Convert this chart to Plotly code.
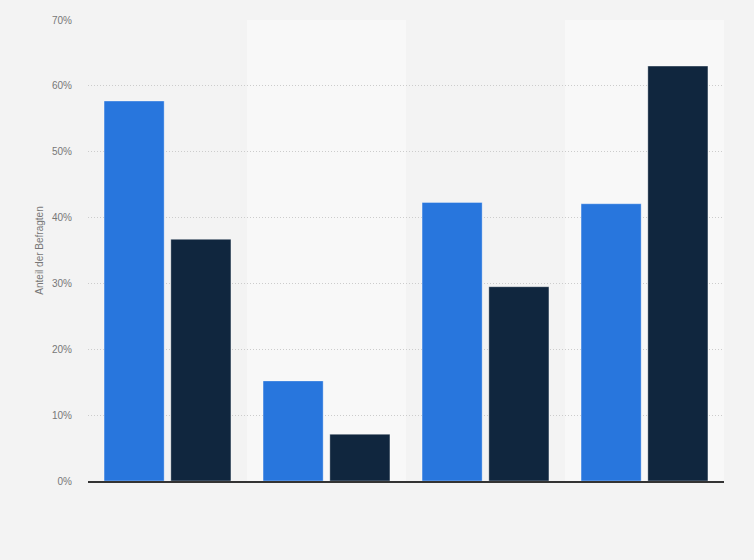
import plotly.graph_objects as go

categories = ["Kategorie 1", "Kategorie 2", "Kategorie 3", "Kategorie 4"]
series_1 = [57.7, 15.2, 42.3, 42.1]
series_2 = [36.7, 7.1, 29.5, 63.0]
y_ticks = [0, 10, 20, 30, 40, 50, 60, 70]
y_tick_labels = [f"{v}%" for v in y_ticks]

fig = go.Figure()

fig.add_trace(go.Bar(
    x=categories, y=series_1, name="Serie 1",
    marker=dict(color="#2876dd", line=dict(color="rgba(255,255,255,0.35)", width=1)),
))
fig.add_trace(go.Bar(
    x=categories, y=series_2, name="Serie 2",
    marker=dict(color="#10263e", line=dict(color="rgba(255,255,255,0.35)", width=1)),
))

# lighter background bands behind every second category
for i in range(1, len(categories), 2):
    fig.add_shape(
        type="rect", xref="x", yref="paper",
        x0=i - 0.5, x1=i + 0.5, y0=0, y1=1,
        fillcolor="#f8f8f8", line_width=0, layer="below",
    )

fig.update_layout(
    width=754, height=560,
    margin=dict(l=88, r=30, t=20, b=79),
    paper_bgcolor="#f3f3f3",
    plot_bgcolor="#f3f3f3",
    barmode="group",
    bargap=0.16,
    bargroupgap=0.1,
    showlegend=False,
    font=dict(family="Arial, Liberation Sans, sans-serif", size=10, color="#666666"),
)

fig.update_xaxes(
    showticklabels=False,
    showgrid=False,
    showline=True, linecolor="#333333", linewidth=1.5,
    ticks="",
    range=[-0.5, 3.5],
)

fig.update_yaxes(
    range=[0, 70],
    tickvals=y_ticks,
    ticktext=y_tick_labels,
    showgrid=True, gridcolor="#cccccc", griddash="1px,2px", gridwidth=1,
    zeroline=False,
    ticks="",
    ticklabelstandoff=15,
    tickfont=dict(size=10, color="#777777"),
    title=dict(text="Anteil der Befragten", font=dict(size=10, color="#777777"), standoff=6),
)

fig.write_html(
    "out.html",
    config={"displayModeBar": False},
    post_script="document.body.style.margin='0';document.body.style.background='#f3f3f3';",
)
